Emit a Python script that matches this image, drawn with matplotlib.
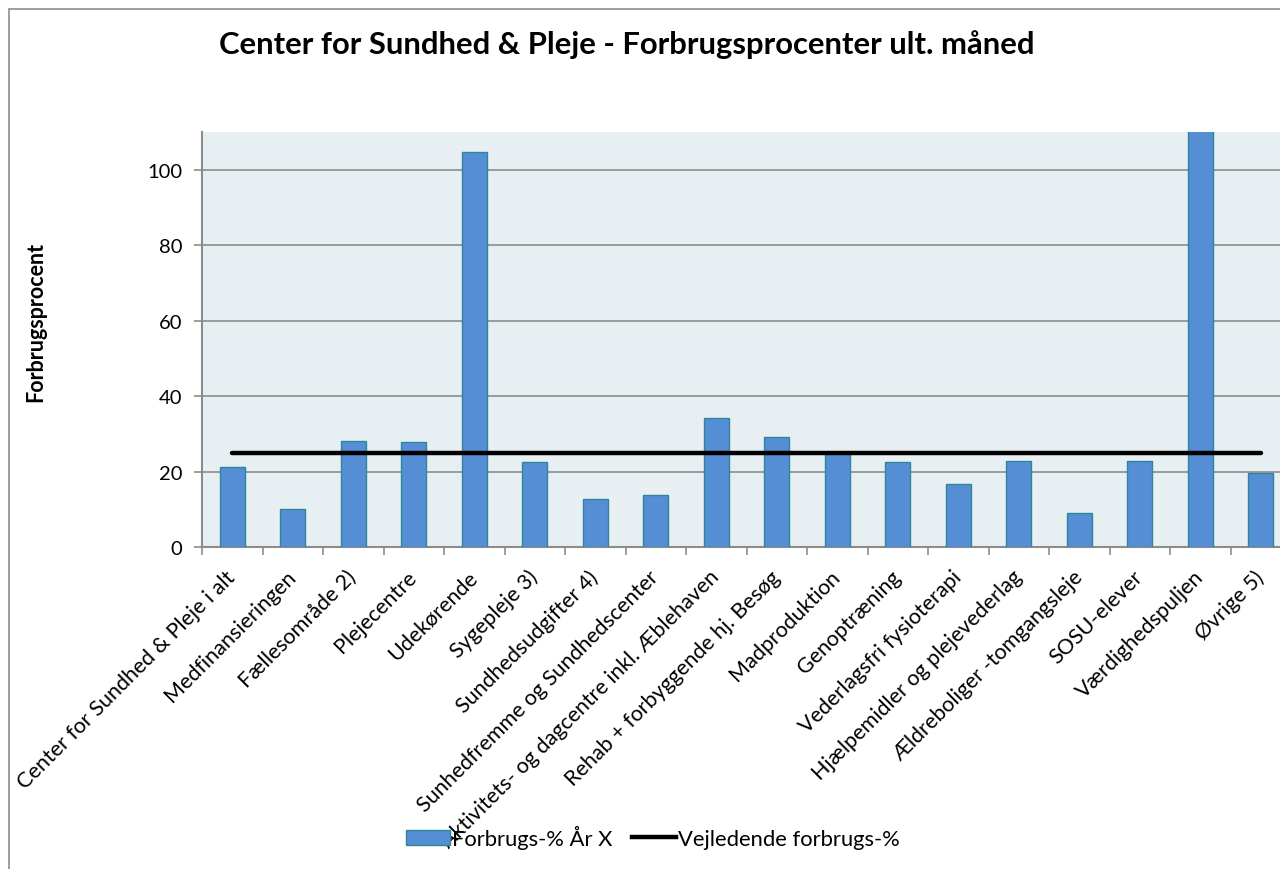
import matplotlib
matplotlib.use("Agg")
import matplotlib.pyplot as plt
from matplotlib.patches import Rectangle, Patch
from matplotlib.lines import Line2D
import numpy as np

plt.rcParams['font.family'] = ['Lato', 'DejaVu Sans']

# data
categories = ["Center for Sundhed & Pleje i alt", "Medfinansieringen", "Fællesområde 2)",
              "Plejecentre", "Udekørende", "Sygepleje 3)", "Sundhedsudgifter 4)",
              "Sunhedfremme og Sundhedscenter", "Aktivitets- og dagcentre inkl. Æblehaven",
              "Rehab + forbyggende hj. Besøg", "Madproduktion", "Genoptræning",
              "Vederlagsfri fysioterapi", "Hjælpemidler og plejevederlag",
              "Ældreboliger -tomgangsleje", "SOSU-elever", "Værdighedspuljen", "Øvrige 5)"]
forbrug = [21.3, 10.0, 28.0, 27.7, 104.8, 22.5, 12.7, 13.9, 34.2,
           29.2, 25.2, 22.5, 16.7, 22.8, 9.0, 22.9, 130.0, 19.6]
vejledende = [25] * len(categories)
yticks = [0, 20, 40, 60, 80, 100]

fig = plt.figure(figsize=(12.8, 8.7), dpi=100)

# outer chart border (runs off right/bottom edge like the screenshot)
fig.patches.append(Rectangle((9/1280, -0.1), 1.2, 1 - 10/870 + 0.1, transform=fig.transFigure,
                             fill=False, edgecolor='#8c8c8c', linewidth=1.2))

ax = fig.add_axes([202/1280, 1 - 548/870, 1089/1280, 415/870])
ax.set_facecolor('#e8eff3')

x = np.arange(len(categories))
ax.bar(x, forbrug, width=0.41, color='#558ed5', edgecolor='#31849b', linewidth=1.0, zorder=3)
ax.plot(x, vejledende, color='black', linewidth=3.2, solid_capstyle='round', zorder=4)

ax.set_xlim(-0.5, len(categories) - 0.5)
ax.set_ylim(0, 110)
ax.set_yticks(yticks)
ax.yaxis.grid(True, color='#8c8c8c', linewidth=1.2, zorder=1)
ax.set_axisbelow(True)

ax.set_xticks(np.arange(len(categories) + 1) - 0.5)
ax.set_xticklabels([])
ax.set_xticks(x, minor=True)
ax.set_xticklabels(categories, minor=True, rotation=45, ha='right', va='center',
                   rotation_mode='anchor', fontsize=15.5)
ax.tick_params(axis='x', which='minor', length=0, pad=19)
ax.tick_params(axis='x', which='major', length=6, color='#8c8c8c', width=1.2)
ax.tick_params(axis='y', length=6, color='#8c8c8c', width=1.2, labelsize=14.5, pad=8)

for s in ['top', 'right']:
    ax.spines[s].set_visible(False)
for s in ['left', 'bottom']:
    ax.spines[s].set_color('#8c8c8c')
    ax.spines[s].set_linewidth(1.5)

fig.text(36/1280, 1 - 322/870, 'Forbrugsprocent', rotation=90, ha='center', va='center',
         fontsize=15.5, fontweight='bold')
fig.text(627/1280, 1 - 45/870, 'Center for Sundhed & Pleje - Forbrugsprocenter ult. måned',
         ha='center', va='center', fontsize=22.3, fontweight='bold')

handles = [Patch(facecolor='#558ed5', edgecolor='#31849b', label='Forbrugs-% År X'),
           Line2D([0], [0], color='black', linewidth=3.2, label='Vejledende forbrugs-%')]
fig.legend(handles=handles, loc='center', bbox_to_anchor=(653/1280, 1 - 838/870), ncol=2,
           frameon=False, fontsize=15.8, handlelength=2.0, handletextpad=0.1, columnspacing=0.9)

fig.savefig('out.png', dpi=100)
